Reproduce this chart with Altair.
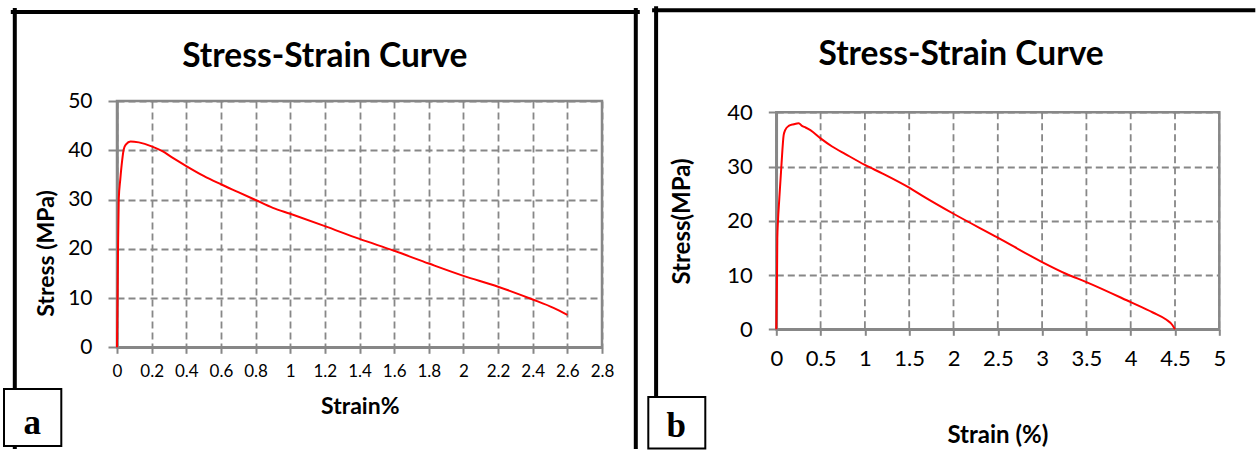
import altair as alt
import pandas as pd

# ---------------- data ----------------
strain_a = [0, 0.003, 0.006, 0.01, 0.019, 0.03, 0.039, 0.052, 0.078, 0.126, 0.2, 0.262,
            0.32, 0.4, 0.5, 0.6, 0.7, 0.8, 0.9, 1.0, 1.2, 1.4, 1.6, 1.8, 2.0, 2.2, 2.4,
            2.52, 2.6]
stress_a = [0, 10, 20, 30, 34.1, 38, 40.2, 41.2, 41.8, 41.6, 40.8, 39.8,
            38.5, 36.8, 34.8, 33.1, 31.5, 29.9, 28.3, 27.1, 24.6, 22.0, 19.6, 17.0, 14.5, 12.3, 9.7,
            8.0, 6.6]

strain_b = [0, 0.008, 0.011, 0.019, 0.034, 0.057, 0.083, 0.10, 0.14, 0.196, 0.253, 0.29,
            0.33, 0.385, 0.5, 0.63, 0.78, 1.0, 1.2, 1.5, 1.65, 2.0, 2.5, 3.0, 3.275, 3.5,
            4.0, 4.25, 4.4, 4.47, 4.5]
stress_b = [0, 10, 16.7, 20, 24.1, 30, 35.8, 36.7, 37.5, 37.8, 38.0, 37.5,
            37.2, 36.7, 35.2, 33.7, 32.3, 30.3, 28.7, 26.1, 24.6, 21.3, 16.9, 12.4, 10.2, 8.7,
            5.0, 3.1, 1.8, 0.8, 0]

x_ticks_a = [0, 0.2, 0.4, 0.6, 0.8, 1, 1.2, 1.4, 1.6, 1.8, 2, 2.2, 2.4, 2.6, 2.8]
y_ticks_a = [0, 10, 20, 30, 40, 50]
x_ticks_b = [0, 0.5, 1, 1.5, 2, 2.5, 3, 3.5, 4, 4.5, 5]
y_ticks_b = [0, 10, 20, 30, 40]

chart_titles = ["Stress-Strain Curve", "Stress-Strain Curve"]
x_titles = ["Strain%", "Strain (%)"]
y_titles = ["Stress (MPa)", "Stress(MPa)"]
panel_letters = ["a", "b"]

# ---------------- styling ----------------
GRID = "#878787"
RED = "#FF0000"
FONT = "Lato"
SERIF = "Liberation Serif"

W1, H1 = 485, 246.3
W2, H2 = 443, 228.3
TOP2 = 11.3

df_a = pd.DataFrame({"strain": strain_a, "stress": stress_a})
df_b = pd.DataFrame({"strain": strain_b, "stress": stress_b})
one = pd.DataFrame({"k": [0]})


def rule(x, x2, y, y2, color="black", width=4):
    return alt.Chart(one).mark_rule(color=color, strokeWidth=width, strokeCap="square").encode(
        x=alt.value(x), x2=alt.value(x2), y=alt.value(y), y2=alt.value(y2))


def box(x, x2, y, y2):
    return alt.Chart(one).mark_rect(fill="white", stroke="black", strokeWidth=2).encode(
        x=alt.value(x), x2=alt.value(x2), y=alt.value(y), y2=alt.value(y2))


def label_text(txt, x, y, font, size, weight="bold"):
    return alt.Chart(pd.DataFrame({"t": [txt]})).mark_text(
        font=font, fontSize=size, fontWeight=weight, align="center", baseline="alphabetic",
        color="black").encode(text="t:N", x=alt.value(x), y=alt.value(y))


def border(y0, y1, w):
    return alt.Chart(one).mark_rect(fillOpacity=0, stroke=GRID, strokeWidth=2.5).encode(
        x=alt.value(0), x2=alt.value(w), y=alt.value(y0), y2=alt.value(y1))


common_axis = dict(domainColor=GRID, domainWidth=2.5, tickColor=GRID, tickWidth=2,
                   labelColor="black", labelFont=FONT, labelOverlap=False, labelFlush=False,
                   titleFont=FONT, titleFontWeight="bold", titleColor="black",
                   titleAlign="center", titleBaseline="alphabetic",
                   gridColor=GRID, gridDash=[7, 4], gridWidth=1.8,
                   labelExpr="'' + datum.value")

# ---------------- panel a ----------------
anchor = alt.Chart(one).mark_rect(fill="white").encode(
    x=alt.value(-116.7), x2=alt.value(-110), y=alt.value(-101), y2=alt.value(-95))

line_a = alt.Chart(df_a).mark_line(color=RED, strokeWidth=2, interpolate="monotone").encode(
    x=alt.X("strain:Q", scale=alt.Scale(domain=[0, 2.8], nice=False, zero=False),
            axis=alt.Axis(values=x_ticks_a, title=x_titles[0], grid=True, tickSize=6,
                          labelFontSize=17, labelPadding=10, titleFontSize=23,
                          titleX=242.8, titleY=65.7, **common_axis)),
    y=alt.Y("stress:Q", scale=alt.Scale(domain=[0, 50], nice=False),
            axis=alt.Axis(values=y_ticks_a, title=y_titles[0], grid=True, tickSize=9,
                          labelFontSize=21, labelPadding=16, titleFontSize=23,
                          titleAngle=270, titleX=-63.7, titleY=152, **common_axis)),
)

panel_a = alt.layer(
    anchor,
    rule(-102.2, -102.2, -91, 346),
    rule(-104.2, 520.8, -89, -89),
    rule(518.8, 518.8, -91, 346),
    box(-113, -55.7, 288, 345),
    label_text(panel_letters[0], -84.7, 332.5, SERIF, 35),
    label_text(chart_titles[0], 207.8, -34.3, FONT, 33.5),
    border(0, H1, W1),
    line_a,
).properties(width=W1, height=H1)

# ---------------- panel b ----------------
vgrid_b = alt.Chart(pd.DataFrame({"strain": x_ticks_b})).mark_rule(
    color=GRID, strokeWidth=1.8, strokeDash=[7, 4]).encode(
    x=alt.X("strain:Q", scale=alt.Scale(domain=[0, 5], nice=False, zero=False)),
    y=alt.value(TOP2), y2=alt.value(H2))

line_b = alt.Chart(df_b).mark_line(color=RED, strokeWidth=2, interpolate="monotone").encode(
    x=alt.X("strain:Q", scale=alt.Scale(domain=[0, 5], nice=False, zero=False),
            axis=alt.Axis(values=x_ticks_b, title=x_titles[1], grid=False, tickSize=6,
                          labelFontSize=22, labelPadding=13, titleFontSize=24,
                          titleX=221, titleY=112.7, **common_axis)),
    y=alt.Y("stress:Q", scale=alt.Scale(domain=[0, 40], nice=False, range=[H2, TOP2]),
            axis=alt.Axis(values=y_ticks_b, title=y_titles[1], grid=True, tickSize=8,
                          labelFontSize=22, labelPadding=16, titleFontSize=24,
                          titleAngle=270, titleX=-87, titleY=120, **common_axis)),
)

panel_b = alt.layer(
    rule(-120.2, -120.2, -92.7, 346),
    rule(-122.2, 477, -90.7, -90.7),
    box(-128, -71, 296, 347.5),
    label_text(panel_letters[1], -100, 336, SERIF, 35),
    label_text(chart_titles[1], 184.8, -36.5, FONT, 33.5),
    vgrid_b,
    border(TOP2, H2, W2),
    line_b,
).properties(width=W2, height=H2)

chart = alt.HConcatChart(hconcat=[panel_a, panel_b], spacing=174.3, bounds="flush").properties(
    padding=0, background="white"
).configure_view(strokeWidth=0)

chart.save("out.html", embed_options={"renderer": "svg", "actions": False})
